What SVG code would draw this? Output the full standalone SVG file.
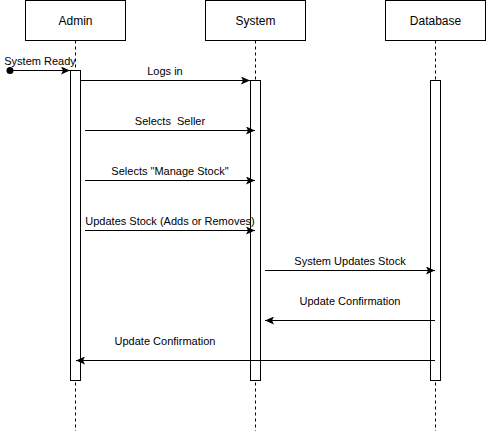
<svg xmlns="http://www.w3.org/2000/svg" width="486" height="431" viewBox="0 0 486 431">
<defs>
<style>
.box{fill:#fff;stroke:#000;stroke-width:1}
.life{stroke:#000;stroke-width:1;stroke-dasharray:3 3;fill:none}
.act{fill:#fff;stroke:#000;stroke-width:1}
.msg{stroke:#000;stroke-width:1;fill:none}
.t{font-family:"Liberation Sans",Arial,sans-serif;fill:#000}
.lbl{font-size:12px;text-anchor:middle}
.ml{font-size:11px;text-anchor:middle}
</style>
<marker id="ah" markerWidth="10" markerHeight="8" refX="9" refY="4" orient="auto" markerUnits="userSpaceOnUse">
<path d="M0,0 L9,4 L0,8 L2,4 Z" fill="#000"/>
</marker>
</defs>
<rect width="486" height="431" fill="#fff"/>
<g id="admin">
<rect class="box" x="25.5" y="0.5" width="100" height="40"/>
<text class="t lbl" x="75.5" y="24.5">Admin</text>
<line class="life" x1="75.5" y1="40.5" x2="75.5" y2="431"/>
<rect class="act" x="70.5" y="70.5" width="10" height="310"/>
</g>
<g id="system">
<rect class="box" x="205.5" y="0.5" width="100" height="40"/>
<text class="t lbl" x="255.5" y="24.5">System</text>
<line class="life" x1="255.5" y1="40.5" x2="255.5" y2="431"/>
<rect class="act" x="250.5" y="80.5" width="10" height="300"/>
</g>
<g id="database">
<rect class="box" x="385.5" y="0.5" width="100" height="40"/>
<text class="t lbl" x="435.5" y="24.5">Database</text>
<line class="life" x1="435.5" y1="40.5" x2="435.5" y2="431"/>
<rect class="act" x="430.5" y="80.5" width="10" height="300"/>
</g>
<g id="connectors">
<circle cx="10" cy="70.5" r="3.5" fill="#000"/>
<line class="msg" x1="10" y1="70.5" x2="70" y2="70.5" marker-end="url(#ah)"/>
<text class="t ml" x="40" y="65">System Ready</text>
<line class="msg" x1="80.5" y1="80.5" x2="250" y2="80.5" marker-end="url(#ah)"/>
<text class="t ml" x="165" y="75">Logs in</text>
<line class="msg" x1="85" y1="130.5" x2="255" y2="130.5" marker-end="url(#ah)"/>
<text class="t ml" x="170" y="125">Selects&#160; Seller</text>
<line class="msg" x1="85" y1="180.5" x2="255" y2="180.5" marker-end="url(#ah)"/>
<text class="t ml" x="170" y="175">Selects "Manage Stock"</text>
<line class="msg" x1="85" y1="230.5" x2="255" y2="230.5" marker-end="url(#ah)"/>
<text class="t ml" x="170" y="225">Updates Stock (Adds or Removes)</text>
<line class="msg" x1="265" y1="270.5" x2="435" y2="270.5" marker-end="url(#ah)"/>
<text class="t ml" x="350" y="265">System Updates Stock</text>
<line class="msg" x1="435" y1="320.5" x2="265" y2="320.5" marker-end="url(#ah)"/>
<text class="t ml" x="350" y="305">Update Confirmation</text>
<line class="msg" x1="435" y1="360.5" x2="76" y2="360.5" marker-end="url(#ah)"/>
<text class="t ml" x="165" y="345">Update Confirmation</text>
</g>
</svg>
